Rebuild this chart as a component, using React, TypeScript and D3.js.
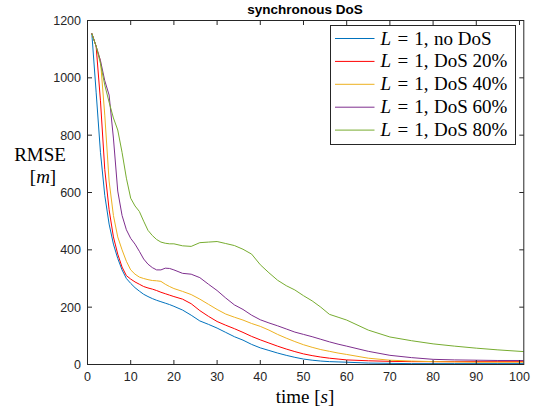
import React from "react";
import * as d3 from "d3";

const W = 535;
const H = 413;

const time = [1,2,3,4,5,6,7,8,9,10,11,12,13,14,15,16,17,18,19,20,
  22,24,26,28,30,32,34,36,38,40,42,44,46,48,50,52,54,56,58,60,
  65,70,75,80,85,90,95,101];

const noDos = [1155,950,740,590,490,420,370,330,300,283,268,256,245,237,230,224,219,214,209,203,
  190,172,152,140,127,112,97,85,70,58,49,40,32,25,19,15,12,10,9,8,
  5,4,3,3,3,3,3,3];
const dos20 = [1155,1110,920,680,540,445,385,340,310,298,288,280,272,267,263,258,252,247,242,237,
  228,212,188,168,150,137,125,112,98,86,75,64,54,45,37,31,26,22,19,16,
  13,11,10,10,10,10,10,10];
const dos40 = [1155,1110,1060,870,640,520,445,400,360,330,315,305,300,296,293,292,290,280,272,265,
  255,244,228,210,192,176,165,155,143,133,120,105,92,80,69,60,52,46,40,35,
  22,15,12,10,9,8,8,8];
const dos60 = [1155,1110,1060,990,940,790,605,520,470,440,420,395,368,350,338,330,330,336,335,330,
  318,315,303,280,258,232,208,192,172,156,145,135,124,113,105,97,88,79,71,64,
  46,32,24,18,16,15,14,14];
const dos80 = [1155,1110,1050,975,915,860,818,740,650,580,553,534,500,468,450,436,427,423,421,421,
  414,412,425,427,429,422,415,402,385,348,320,294,275,260,240,222,200,175,165,155,
  120,96,83,72,64,57,51,45];

const seriesNames = ["no DoS", "DoS 20%", "DoS 40%", "DoS 60%", "DoS 80%"];
const seriesValues = [noDos, dos20, dos40, dos60, dos80];
const seriesColors = ["#0072BD", "#FF0000", "#EDB120", "#7E2F8E", "#77AC30"];

const xTicks = [0,10,20,30,40,50,60,70,80,90,100];
const yTicks = [0,200,400,600,800,1000,1200];

const left = 87.5, right = 523.8, top = 20.5, bottom = 364.5;
const axisColor = "#262626";
const serif = "'Liberation Serif', 'Times New Roman', serif";
const sans = "'Liberation Sans', Arial, Helvetica, sans-serif";

export default function App() {
  const x = d3.scaleLinear().domain([0, 101]).range([left, right]);
  const y = d3.scaleLinear().domain([0, 1200]).range([bottom, top]);
  const line = d3.line<number>().x((_, i) => x(time[i])).y((d) => y(d));
  const tl = 4.5;

  const legX = 330.5, legY = 25.5, legW = 185, legH = 119;
  const rowH = 22.9;

  return (
    <svg width={W} height={H} style={{ position: "absolute", left: 0, top: 0, background: "#fff" }}>
      <rect x={0} y={0} width={W} height={H} fill="#fff" />
      <defs>
        <clipPath id="plotclip">
          <rect x={left} y={top} width={right - left} height={bottom - top} />
        </clipPath>
      </defs>
      <g clipPath="url(#plotclip)">
        {seriesValues.map((vals, i) => (
          <path key={i} d={line(vals) || ""} fill="none" stroke={seriesColors[i]} strokeWidth={1} />
        ))}
      </g>
      <rect x={left} y={top} width={right - left} height={bottom - top} fill="none" stroke={axisColor} strokeWidth={1} />
      {xTicks.map((t) => (
        <g key={"xt" + t}>
          <line x1={x(t)} x2={x(t)} y1={bottom} y2={bottom - tl} stroke={axisColor} />
          <line x1={x(t)} x2={x(t)} y1={top} y2={top + tl} stroke={axisColor} />
          <text x={x(t)} y={381} textAnchor="middle" fontFamily={sans} fontSize={12.5} fill={axisColor}>{t}</text>
        </g>
      ))}
      {yTicks.map((t) => (
        <g key={"yt" + t}>
          <line x1={left} x2={left + tl} y1={y(t)} y2={y(t)} stroke={axisColor} />
          <line x1={right} x2={right - tl} y1={y(t)} y2={y(t)} stroke={axisColor} />
          <text x={81} y={y(t) + 4.5} textAnchor="end" fontFamily={sans} fontSize={12.5} fill={axisColor}>{t}</text>
        </g>
      ))}
      <text x={305} y={14} textAnchor="middle" fontFamily={sans} fontSize={13.5} fontWeight="bold" fill="#000">synchronous DoS</text>
      <text x={305} y={403} textAnchor="middle" fontFamily={serif} fontSize={19} fill="#000">
        time [<tspan fontStyle="italic">s</tspan>]
      </text>
      <text x={40} y={161} textAnchor="middle" fontFamily={serif} fontSize={19} fill="#000">RMSE</text>
      <text x={43} y={183} textAnchor="middle" fontFamily={serif} fontSize={19} fill="#000">
        [<tspan fontStyle="italic">m</tspan>]
      </text>
      <rect x={legX} y={legY} width={legW} height={legH} fill="#fff" stroke={axisColor} strokeWidth={1} />
      {seriesNames.map((n, i) => {
        const cy = legY + 13 + i * rowH;
        return (
          <g key={"lg" + i}>
            <line x1={legX + 4.5} x2={legX + 44} y1={cy} y2={cy} stroke={seriesColors[i]} strokeWidth={1} />
            <text x={legX + 50} y={cy + 6} fontFamily={serif} fontSize={19} fill="#000">
              <tspan fontStyle="italic">L</tspan>
              <tspan dx={6.5}>=</tspan>
              <tspan dx={6}>1,</tspan>
              <tspan dx={5.5}>{n}</tspan>
            </text>
          </g>
        );
      })}
    </svg>
  );
}
